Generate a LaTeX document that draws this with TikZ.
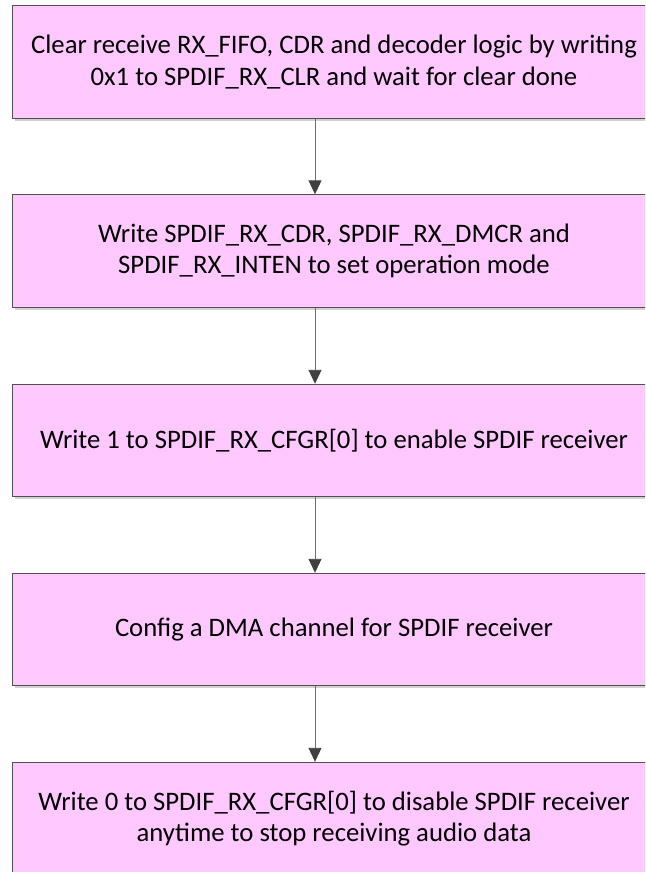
\documentclass[tikz,border=0pt]{standalone}
\usepackage{fontspec}
\setmainfont{Carlito}
\usetikzlibrary{arrows.meta,shadows}
\definecolor{boxfill}{RGB}{255,201,255}
\definecolor{boxline}{RGB}{80,80,80}
\definecolor{arrline}{RGB}{110,110,110}
\definecolor{arrhead}{RGB}{64,64,64}
\tikzset{
  stepbox/.style={draw=boxline, line width=0.9pt, fill=boxfill,
    minimum width=644pt, minimum height=112.5pt, inner sep=0pt,
    align=center, font=\fontsize{26.7}{31.6}\selectfont,
    drop shadow={shadow xshift=2.5pt, shadow yshift=-2.5pt, opacity=0.18, fill=black}},
  flow/.style={draw=arrline, line width=0.9pt,
    -{Triangle[length=14pt,width=13pt,color=arrhead]}}
}
\begin{document}
\begin{tikzpicture}[x=1pt,y=-1pt]
\useasboundingbox (0,0) rectangle (645,872);
\clip (0,0) rectangle (645,872);
\coordinate (ax) at (315,0);
\node[stepbox] (b1) at (334,62) {Clear receive RX\_FIFO, CDR and decoder logic by writing\\0x1 to SPDIF\_RX\_CLR and wait for clear done};
\node[stepbox] (b2) at (334,251) {Write SPDIF\_RX\_CDR, SPDIF\_RX\_DMCR and\\SPDIF\_RX\_INTEN to set operation mode};
\node[stepbox] (b3) at (334,440.5) {Write 1 to SPDIF\_RX\_CFGR[0] to enable SPDIF receiver};
\node[stepbox] (b4) at (334,629.5) {Config a DMA channel for SPDIF receiver};
\node[stepbox] (b5) at (334,818.5) {Write 0 to SPDIF\_RX\_CFGR[0] to disable SPDIF receiver\\anytime to stop receiving audio data};
\draw[flow] (b1.south -| ax) -- (b2.north -| ax);
\draw[flow] (b2.south -| ax) -- (b3.north -| ax);
\draw[flow] (b3.south -| ax) -- (b4.north -| ax);
\draw[flow] (b4.south -| ax) -- (b5.north -| ax);
\end{tikzpicture}
\end{document}
